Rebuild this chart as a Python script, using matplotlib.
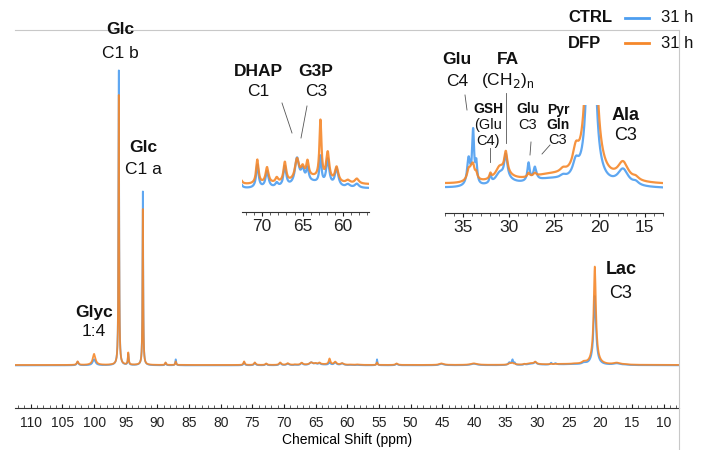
import numpy as np
import matplotlib
matplotlib.use('Agg')
import matplotlib.pyplot as plt
from matplotlib.lines import Line2D

plt.rcParams['font.family'] = ['Liberation Sans', 'DejaVu Sans']

# 13C spectrum read off the picture as a peak table:
# position (ppm), half width (ppm), CTRL height, DFP height (main-axis units)
PEAK_PPM = [102.6, 100.0, 96.1, 94.6, 92.3, 88.7, 87.1, 76.3, 74.6, 72.8,
            70.6, 69.4, 68.2, 67.2, 65.7, 65.0, 64.4, 62.8, 61.9, 60.8, 59.4, 58.3, 64.0,
            55.3, 52.2, 45.1, 40.0,
            34.4, 33.9, 34.0, 33.55, 32.0, 31.0, 30.3, 30.5, 27.8, 27.1, 25.5, 24.0, 22.6,
            20.9, 20.9, 17.4, 16.0]
PEAK_HWHM = [0.15, 0.25, 0.06, 0.08, 0.06, 0.10, 0.08, 0.12, 0.15, 0.15,
             0.18, 0.22, 0.20, 0.20, 0.30, 0.25, 0.18, 0.15, 0.22, 0.25, 0.30, 0.30, 1.8,
             0.08, 0.20, 0.40, 0.60,
             0.20, 0.12, 0.35, 0.12, 0.12, 0.50, 0.20, 1.20, 0.15, 0.20, 3.0, 0.40, 0.40,
             0.20, 0.45, 0.70, 0.40]
CTRL_HEIGHT = [3.5, 6, 295, 11, 174, 2.5, 6, 3, 2.5, 1.5,
               2.3, 1.6, 0.4, 2.0, 2.6, 1.2, 1.3, 2.7, 2.6, 1.8, 0.3, 0.4, 0.6,
               6, 1.5, 1.5, 1.5,
               2.6, 5.0, 0.3, 2.0, 0.8, 0.7, 2.3, 0.7, 1.8, 1.3, 0.8, 0.3, 1.5,
               62, 7, 1.6, 0.3]
DFP_HEIGHT = [3.5, 11, 270, 12, 156, 2.5, 3.5, 3.5, 2.5, 1.5,
              2.4, 1.6, 0.5, 2.0, 2.1, 1.0, 1.5, 5.8, 2.8, 1.5, 0.3, 0.5, 0.7,
              2.5, 1.5, 1.5, 1.5,
              0.8, 0.3, 1.6, 0.5, 0.5, 0.9, 2.1, 0.7, 0.4, 0.3, 0.8, 0.4, 2.0,
              88, 10, 1.8, 0.3]
CTRL_BASE = -0.4
DFP_BASE = 0.0

MAIN_TICKS = list(range(10, 111, 5))
INSET1_TICKS = [70, 65, 60]
INSET2_TICKS = [35, 30, 25, 20, 15]

BLUE = '#4d9ef0'
ORANGE = '#f5872a'
W, H = 708, 450


def spectrum(ppm, heights, base):
    y = np.full_like(ppm, base)
    for p, w, h in zip(PEAK_PPM, PEAK_HWHM, heights):
        y += h * w ** 2 / ((ppm - p) ** 2 + w ** 2)
    return y


def box(x0, y0, x1, y1):
    # pixel box (top-left origin) -> figure rect
    return [x0 / W, 1 - y1 / H, (x1 - x0) / W, (y1 - y0) / H]


def ftext(x, y, s, bold=False, size=12.5, **kw):
    fig.text(x / W, 1 - y / H, s, ha=kw.pop('ha', 'center'), va='center',
             fontsize=size, fontweight='bold' if bold else 'normal', color='#111111', **kw)


def fline(x0, y0, x1, y1, color='#555555', lw=0.6):
    fig.add_artist(Line2D([x0 / W, x1 / W], [1 - y0 / H, 1 - y1 / H], color=color, lw=lw))


ppm = np.linspace(6, 115, 30000)
ctrl = spectrum(ppm, CTRL_HEIGHT, CTRL_BASE)
dfp = spectrum(ppm, DFP_HEIGHT, DFP_BASE)

fig = plt.figure(figsize=(7.08, 4.5), dpi=100)

ax = fig.add_axes(box(15, 30, 679, 408))
ax.plot(ppm, ctrl, color=BLUE, lw=1.3, alpha=0.9)
ax.plot(ppm, dfp, color=ORANGE, lw=1.3, alpha=0.9)
ax.set_xlim(112.5, 7.6)
ax.set_ylim(-43, 335)
ax.set_yticks([])
ax.set_xticks(MAIN_TICKS)
ax.set_xticks(range(8, 113), minor=True)
ax.tick_params(axis='x', which='major', direction='in', length=3, width=0.8,
               labelsize=10, pad=6, colors='#222222')
ax.tick_params(axis='x', which='minor', direction='in', length=2, width=0.6, colors='#444444')
ax.set_xlabel('Chemical Shift (ppm)', fontsize=10, labelpad=2)
ax.spines['left'].set_visible(False)
ax.spines['right'].set_visible(False)
ax.spines['top'].set_color('#c8c8c8')
ax.spines['top'].set_linewidth(0.8)
ax.spines['bottom'].set_color('#333333')
ax.patch.set_alpha(0)
fline(679, 30, 679, 450, color='#c8c8c8', lw=0.8)


def inset(rect, lo, hi, ylim, ticks):
    a = fig.add_axes(rect)
    a.plot(ppm, ctrl, color=BLUE, lw=1.6, alpha=0.9)
    a.plot(ppm, dfp, color=ORANGE, lw=1.6, alpha=0.9)
    a.set_xlim(lo, hi)
    a.set_ylim(*ylim)
    a.set_yticks([])
    a.set_xticks(ticks)
    a.set_xticks(range(int(np.ceil(hi)), int(lo) + 1), minor=True)
    a.tick_params(axis='x', which='major', direction='out', length=3, width=0.8,
                  labelsize=12.5, pad=2, colors='#222222')
    a.tick_params(axis='x', which='minor', direction='out', length=2, width=0.6, colors='#444444')
    for s in ('left', 'right', 'top'):
        a.spines[s].set_visible(False)
    a.spines['bottom'].set_color('#333333')
    a.patch.set_alpha(0)
    return a


inset(box(242, 100, 369, 212), 72.5, 56.8, (-2.7, 8.5), INSET1_TICKS)
inset(box(445, 105, 663, 213), 37.0, 13.0, (-2.8, 8.0), INSET2_TICKS)

# main labels
ftext(120, 30, 'Glc', bold=True)
ftext(120, 53, 'C1 b')
ftext(143, 148, 'Glc', bold=True)
ftext(143, 170, 'C1 a')
ftext(94, 312, 'Glyc', bold=True)
ftext(94, 332, '1:4')
ftext(621, 270, 'Lac', bold=True, size=13)
ftext(621, 293, 'C3', size=13)

# inset 1 labels
ftext(258, 71, 'DHAP', bold=True)
ftext(258, 92, 'C1')
ftext(316, 71, 'G3P', bold=True)
ftext(316, 92, 'C3')
fline(282, 103, 292, 133)
fline(307, 106, 301, 138)

# inset 2 labels
ftext(457, 60, 'Glu', bold=True)
ftext(457, 81, 'C4')
ftext(508, 60, 'FA', bold=True)
ftext(508, 81, r'(CH$_2$)$_\mathregular{n}$')
ftext(488, 109, 'GSH', bold=True, size=10)
ftext(488, 125, '(Glu', size=10.5)
ftext(488, 141, 'C4)', size=10.5)
ftext(528, 109, 'Glu', bold=True, size=10)
ftext(528, 125, 'C3', size=10.5)
ftext(558, 110, 'Pyr', bold=True, size=10)
ftext(558, 125, 'Gln', bold=True, size=10)
ftext(558, 140, 'C3', size=10.5)
ftext(626, 115, 'Ala', bold=True, size=13)
ftext(626, 136, 'C3', size=13)
fline(465, 95, 467, 110)
fline(490, 148, 490, 162)
fline(506, 93, 506, 143)
fline(531, 142, 530, 155)
fline(550, 145, 542, 154)

# legend
ftext(568, 18, 'CTRL', bold=True, size=12, ha='left')
ftext(568, 43, 'DFP', bold=True, size=12, ha='left')
fline(625, 18, 649, 18, color=BLUE, lw=2)
fline(625, 43, 649, 43, color=ORANGE, lw=2)
ftext(661, 18, '31 h', size=12, ha='left')
ftext(661, 43, '31 h', size=12, ha='left')

fig.savefig('out.png', dpi=100)
